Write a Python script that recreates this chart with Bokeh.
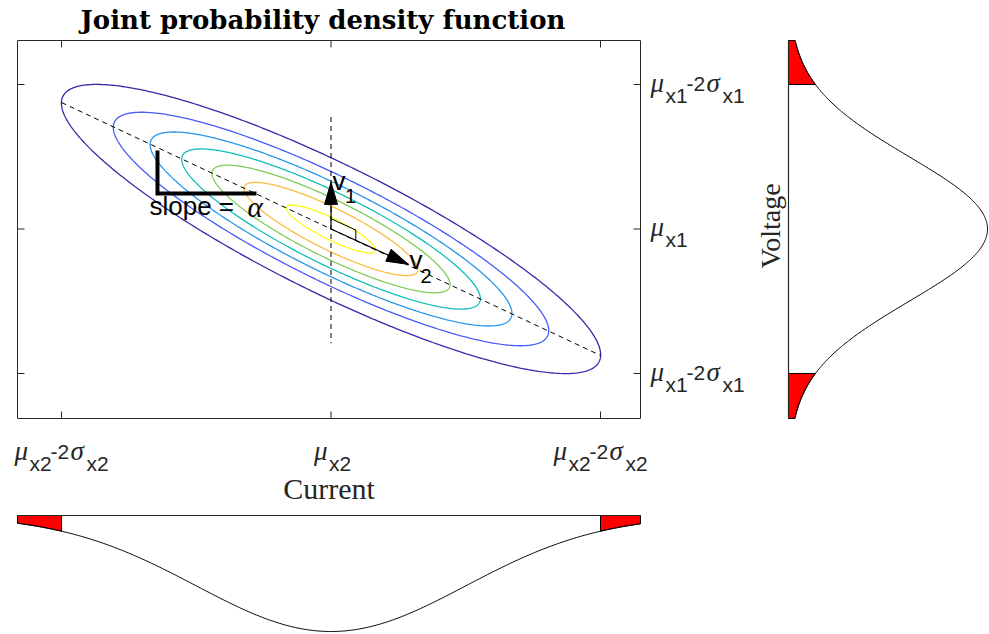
import numpy as np
from bokeh.plotting import figure
from bokeh.models import Range1d, Label, ColumnDataSource
from bokeh.layouts import row, column
from bokeh.embed import file_html
from bokeh.resources import INLINE

# ---------------- data (in units of sigma, centred on the means) ----------------
box_x = (-2.327, 2.297)        # axes limits, current
box_y = (-2.623, 2.609)        # axes limits, voltage
x_ticks = [-2, 0, 2]
y_ticks = [-2, 0, 2]
# tick label pieces: (text, kind) ; kind g = greek italic, n = normal, s = subscript
x_tick_parts = [
    [("μ", "g"), ("x2", "s"), ("-2", "n"), ("σ", "g"), ("x2", "s")],
    [("μ", "g"), ("x2", "s")],
    [("μ", "g"), ("x2", "s"), ("-2", "n"), ("σ", "g"), ("x2", "s")],
]
y_tick_parts = [
    [("μ", "g"), ("x1", "s"), ("-2", "n"), ("σ", "g"), ("x1", "s")],
    [("μ", "g"), ("x1", "s")],
    [("μ", "g"), ("x1", "s"), ("-2", "n"), ("σ", "g"), ("x1", "s")],
]
rho = -0.87                                    # correlation current / voltage
contour_levels = [0.135, 0.271, 0.406, 0.541, 0.677, 0.812, 0.947]   # pdf / peak
contour_colors = ["#3e26a8", "#475bf9", "#2796eb", "#12beb9", "#80cc59", "#fbbc3d", "#f9fb15"]
reg_line_x = [-2.0, 2.0]
reg_line_y = [1.75, -1.75]
vline_x = [0.0, 0.0]
vline_y = [1.55, -1.58]
origin = (0.0, 0.0)
v1_tip = (0.0, 0.645)
v2_tip = (0.575, -0.49)
right_angle_frac = (0.22, 0.32)
slope_marker_x = [-1.288, -1.288, -0.553]
slope_marker_y = [1.087, 0.491, 0.491]
tail_limit = 2.0                               # red tails beyond +-2 sigma
mu, sigma = 0.0, 1.0

AX = "#262626"
SANS = "Liberation Sans"
SERIF = "Liberation Serif"
K_BASE = 0.29        # baseline correction, fraction of font size

# ---------------- layout (pixels) ----------------
MAIN_W, MAIN_H = 750, 508
BOX_L, BOX_R, BOX_T, BOX_B = 17, 640, 40, 418
sx = (BOX_R - BOX_L) / (box_x[1] - box_x[0])
sy = (BOX_B - BOX_T) / (box_y[1] - box_y[0])
XR = Range1d(box_x[0] - BOX_L / sx, box_x[1] + (MAIN_W - BOX_R) / sx)
YR = Range1d(box_y[0] - (MAIN_H - BOX_B) / sy, box_y[1] + BOX_T / sy)

RIGHT_W = 238
R_AX = 38            # density 0 at this pixel of the right panel
R_SCALE = 199        # pixels per unit density
BOT_H = 125
B_AX = 7
B_SCALE = 116


def base_fig(**kw):
    f = figure(output_backend="svg", toolbar_location=None,
               x_axis_location=None, y_axis_location=None,
               min_border_left=0, min_border_right=0, min_border_top=0, min_border_bottom=0,
               **kw)
    f.outline_line_color = None
    f.background_fill_color = "white"
    f.border_fill_color = "white"
    f.xgrid.grid_line_color = None
    f.ygrid.grid_line_color = None
    return f


def lab(fig, x, y, text, dx, dy, font=SANS, size=19, style="normal", color="black",
        align="left", angle=0.0):
    c = K_BASE * size
    if angle:
        dx -= c
    else:
        dy += c
    fig.add_layout(Label(x=x, y=y, x_offset=dx, y_offset=dy, text=text, text_font=font,
                         text_font_size=f"{size}px", text_font_style=style, text_color=color,
                         text_align=align, text_baseline="alphabetic", angle=angle))


# ---------------- main joint pdf plot ----------------
p = base_fig(width=MAIN_W, height=MAIN_H, x_range=XR, y_range=YR)

# axes box and inward ticks
p.quad(left=[box_x[0]], right=[box_x[1]], bottom=[box_y[0]], top=[box_y[1]],
       fill_color=None, line_color=AX, line_width=1)
tick = 7
tx0, ty0, tx1, ty1 = [], [], [], []
for tv in x_ticks:
    tx0 += [tv, tv]; tx1 += [tv, tv]
    ty0 += [box_y[0], box_y[1]]; ty1 += [box_y[0] + tick / sy, box_y[1] - tick / sy]
for tv in y_ticks:
    ty0 += [tv, tv]; ty1 += [tv, tv]
    tx0 += [box_x[0], box_x[1]]; tx1 += [box_x[0] + tick / sx, box_x[1] - tick / sx]
p.segment(x0=tx0, y0=ty0, x1=tx1, y1=ty1, line_color=AX, line_width=1)

t = np.linspace(0, 2 * np.pi, 500)
xs, ys = [], []
for L in contour_levels:
    r = np.sqrt(-2 * np.log(L))
    xs.append(mu + sigma * r * np.cos(t))
    ys.append(mu + sigma * r * (rho * np.cos(t) + np.sqrt(1 - rho ** 2) * np.sin(t)))
p.multi_line(xs="xs", ys="ys", line_color="c", line_width=1.3,
             source=ColumnDataSource(dict(xs=xs, ys=ys, c=contour_colors)))

p.line(reg_line_x, reg_line_y, line_color="black", line_width=1, line_dash="5 4")
p.line(vline_x, vline_y, line_color="black", line_width=1, line_dash="5 4")


def head(tip, org, L=22, W=13):
    dx = (tip[0] - org[0]) * sx
    dy = (tip[1] - org[1]) * sy
    n = np.hypot(dx, dy)
    ux, uy = dx / n, dy / n
    bx, by = -L * ux, -L * uy
    qx = [0, bx - W / 2 * (-uy), bx + W / 2 * (-uy)]
    qy = [0, by - W / 2 * ux, by + W / 2 * ux]
    return [tip[0] + q / sx for q in qx], [tip[1] + q / sy for q in qy]


for tip in (v1_tip, v2_tip):
    p.segment(x0=[origin[0]], y0=[origin[1]], x1=[tip[0]], y1=[tip[1]], line_color="black", line_width=1.2)
    hx, hy = head(tip, origin)
    p.patch(hx, hy, fill_color="black", line_color="black")

a = (v1_tip[0] * right_angle_frac[0], v1_tip[1] * right_angle_frac[0])
b = (v2_tip[0] * right_angle_frac[1], v2_tip[1] * right_angle_frac[1])
p.line([a[0], a[0] + b[0], b[0]], [a[1], a[1] + b[1], b[1]], line_color="black", line_width=1)

p.line(slope_marker_x, slope_marker_y, line_color="black", line_width=4, line_join="miter")

# annotations inside the axes
lab(p, slope_marker_x[1], slope_marker_y[1], "slope =", -8, -20, size=26)
lab(p, slope_marker_x[1], slope_marker_y[1], "α", 90, -22, font=SERIF, size=29, style="italic")
lab(p, v1_tip[0], v1_tip[1], "v", 1.5, -6, size=26)
lab(p, v1_tip[0], v1_tip[1], "1", 14, -19, size=20)
lab(p, v2_tip[0], v2_tip[1], "v", 1, -3, size=26)
lab(p, v2_tip[0], v2_tip[1], "2", 12, -17, size=20)

# tick labels made of pieces
LONG_DX = [0, 15, 36, 56, 72]


def tick_label(fig, x, y, x0, base, parts, color=AX):
    for (txt, kind), dx in zip(parts, LONG_DX):
        if kind == "g":
            lab(fig, x, y, txt, x0 + dx, -base, font=SERIF, size=27, style="italic", color=color)
        elif kind == "n":
            lab(fig, x, y, txt, x0 + dx, -base, size=21, color=color)
        else:
            lab(fig, x, y, txt, x0 + dx, -(base + 11), size=21, color=color)


for tv, parts in zip(y_ticks[::-1], y_tick_parts):
    tick_label(p, box_x[1], tv, 10, 6, parts)
for tv, parts in zip(x_ticks, x_tick_parts):
    x0 = -47 if len(parts) > 2 else -17
    tick_label(p, tv, box_y[0], x0, 40, parts)

xc = (box_x[0] + box_x[1]) / 2
lab(p, xc, box_y[1], "Joint probability density function", -6, 13, font="DejaVu Serif",
    size=26, style="bold", align="center")
lab(p, xc, box_y[0], "Current", 0, -79, font=SERIF, size=30, align="center", color=AX)

# ---------------- right marginal (voltage) ----------------
rf = base_fig(width=RIGHT_W, height=MAIN_H,
              x_range=Range1d(-R_AX / R_SCALE, (RIGHT_W - R_AX) / R_SCALE), y_range=YR)
for lo, hi in [(tail_limit, box_y[1]), (box_y[0], -tail_limit)]:
    seg = np.linspace(lo, hi, 100)
    f = np.exp(-0.5 * ((seg - mu) / sigma) ** 2)
    rf.patch(np.concatenate([np.zeros_like(seg), f[::-1]]), np.concatenate([seg, seg[::-1]]),
             fill_color="#ff0000", line_color="black", line_width=1)
yy = np.linspace(box_y[0], box_y[1], 400)
rf.line([0, 0], [box_y[0], box_y[1]], line_color=AX, line_width=1.2)
rf.line(np.exp(-0.5 * ((yy - mu) / sigma) ** 2), yy, line_color="black", line_width=1)
lab(rf, 0, (box_y[0] + box_y[1]) / 2 + 0.05, "Voltage", -10, 0, font=SERIF, size=28,
    align="center", angle=np.pi / 2, color=AX)

# ---------------- bottom marginal (current) ----------------
bf = base_fig(width=MAIN_W, height=BOT_H, x_range=XR,
              y_range=Range1d((BOT_H - B_AX) / B_SCALE, -B_AX / B_SCALE))
for lo, hi in [(box_x[0], -tail_limit), (tail_limit, box_x[1])]:
    seg = np.linspace(lo, hi, 100)
    f = np.exp(-0.5 * ((seg - mu) / sigma) ** 2)
    bf.patch(np.concatenate([seg, seg[::-1]]), np.concatenate([np.zeros_like(seg), f[::-1]]),
             fill_color="#ff0000", line_color="black", line_width=1)
xx = np.linspace(box_x[0], box_x[1], 400)
bf.line([box_x[0], box_x[1]], [0, 0], line_color=AX, line_width=1.2)
bf.line(xx, np.exp(-0.5 * ((xx - mu) / sigma) ** 2), line_color="black", line_width=1)

layout = column(row(p, rf), bf)
open("out.html", "w").write(file_html(layout, INLINE))
